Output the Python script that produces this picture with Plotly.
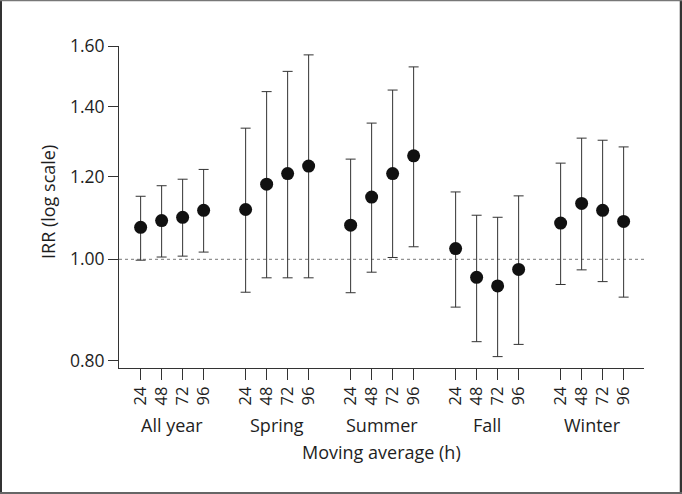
import math
import plotly.graph_objects as go

seasons = ["All year", "Spring", "Summer", "Fall", "Winter"]
hours = ["24", "48", "72", "96"]

irr_all_year = [1.073, 1.089, 1.097, 1.114]
irr_spring = [1.116, 1.180, 1.208, 1.228]
irr_summer = [1.078, 1.147, 1.208, 1.256]
irr_fall = [1.024, 0.961, 0.943, 0.978]
irr_winter = [1.083, 1.131, 1.114, 1.087]

low_all_year = [0.998, 1.005, 1.007, 1.016]
low_spring = [0.930, 0.960, 0.960, 0.960]
low_summer = [0.929, 0.972, 1.004, 1.028]
low_fall = [0.900, 0.834, 0.807, 0.829]
low_winter = [0.946, 0.977, 0.952, 0.920]

up_all_year = [1.149, 1.176, 1.193, 1.219]
up_spring = [1.335, 1.447, 1.513, 1.569]
up_summer = [1.247, 1.350, 1.452, 1.528]
up_fall = [1.160, 1.102, 1.097, 1.150]
up_winter = [1.236, 1.306, 1.300, 1.281]

y_ticks = [0.80, 1.00, 1.20, 1.40, 1.60]
y_tick_labels = ["0.80", "1.00", "1.20", "1.40", "1.60"]

irr = [irr_all_year, irr_spring, irr_summer, irr_fall, irr_winter]
low = [low_all_year, low_spring, low_summer, low_fall, low_winter]
up = [up_all_year, up_spring, up_summer, up_fall, up_winter]

FONT = "Open Sans"
TXT = "#1e1e1e"
LINE = "#333333"

xs, ys, eplus, eminus, tickvals, ticktext = [], [], [], [], [], []
for g in range(len(seasons)):
    for i in range(len(hours)):
        x = g * 5 + i
        xs.append(x)
        ys.append(irr[g][i])
        eplus.append(up[g][i] - irr[g][i])
        eminus.append(irr[g][i] - low[g][i])
        tickvals.append(x)
        ticktext.append(hours[i])

fig = go.Figure()
fig.add_trace(go.Scatter(
    x=xs, y=ys, mode="markers",
    marker=dict(color="#111111", size=13),
    error_y=dict(type="data", symmetric=False, array=eplus, arrayminus=eminus,
                 color=LINE, thickness=1, width=5),
    showlegend=False, hoverinfo="skip",
))

# reference line at IRR = 1
fig.add_shape(type="line", xref="paper", yref="y", x0=0, x1=1, y0=1.0, y1=1.0,
              line=dict(color="#777777", width=1, dash="dot"), layer="below")

L, R, T, B = 119, 38, 46, 126
W, H = 682, 494
pw, ph = W - L - R, H - T - B

def px_x(v):
    return (v - L) / pw

def px_y(v):
    return (H - B - v) / ph

# outer frame: dark sides, lighter top/bottom
fig.add_shape(type="line", xref="paper", yref="paper", x0=px_x(1), x1=px_x(1),
              y0=px_y(494), y1=px_y(0), line=dict(color="#333333", width=2))
fig.add_shape(type="line", xref="paper", yref="paper", x0=px_x(681), x1=px_x(681),
              y0=px_y(494), y1=px_y(0), line=dict(color="#333333", width=2.5))
fig.add_shape(type="line", xref="paper", yref="paper", x0=px_x(0), x1=px_x(682),
              y0=px_y(0.5), y1=px_y(0.5), line=dict(color="#777777", width=1.5))
fig.add_shape(type="line", xref="paper", yref="paper", x0=px_x(0), x1=px_x(682),
              y0=px_y(493), y1=px_y(493), line=dict(color="#666666", width=2))

annotations = []
for g, s in enumerate(seasons):
    annotations.append(dict(x=g * 5 + 1.5, xref="x", y=px_y(425), yref="paper",
                            text=s, showarrow=False, font=dict(family=FONT, size=18, color=TXT),
                            xanchor="center", yanchor="middle"))
annotations.append(dict(x=px_x(381), xref="paper", y=px_y(452), yref="paper",
                        text="Moving average (h)", showarrow=False,
                        font=dict(family=FONT, size=18, color=TXT),
                        xanchor="center", yanchor="middle"))
annotations.append(dict(x=px_x(48), xref="paper", y=px_y(202), yref="paper",
                        text="IRR (log scale)", showarrow=False, textangle=-90,
                        font=dict(family=FONT, size=18, color=TXT),
                        xanchor="center", yanchor="middle"))

fig.update_layout(
    width=W, height=H,
    margin=dict(l=L, r=R, t=T, b=B, pad=0),
    paper_bgcolor="white", plot_bgcolor="white",
    font=dict(family=FONT, size=16, color=TXT),
    annotations=annotations,
    xaxis=dict(range=[-1.03, 23.97], tickvals=tickvals, ticktext=ticktext,
               tickangle=-90, ticks="outside", ticklen=11, tickcolor=LINE, tickwidth=1,
               showline=True, linecolor=LINE, linewidth=1, showgrid=False, zeroline=False,
               tickfont=dict(family=FONT, size=16.5, color=TXT), fixedrange=True),
    yaxis=dict(type="log", range=[math.log10(0.787), math.log10(1.6)],
               tickvals=y_ticks, ticktext=y_tick_labels,
               ticks="outside", ticklen=10, tickcolor=LINE, tickwidth=1,
               showline=True, linecolor=LINE, linewidth=1, showgrid=False, zeroline=False,
               tickfont=dict(family=FONT, size=17.5, color=TXT), fixedrange=True),
)

fig.write_html("out.html", config={"displayModeBar": False},
               post_script="document.body.style.margin='0';document.body.style.overflow='hidden';")
